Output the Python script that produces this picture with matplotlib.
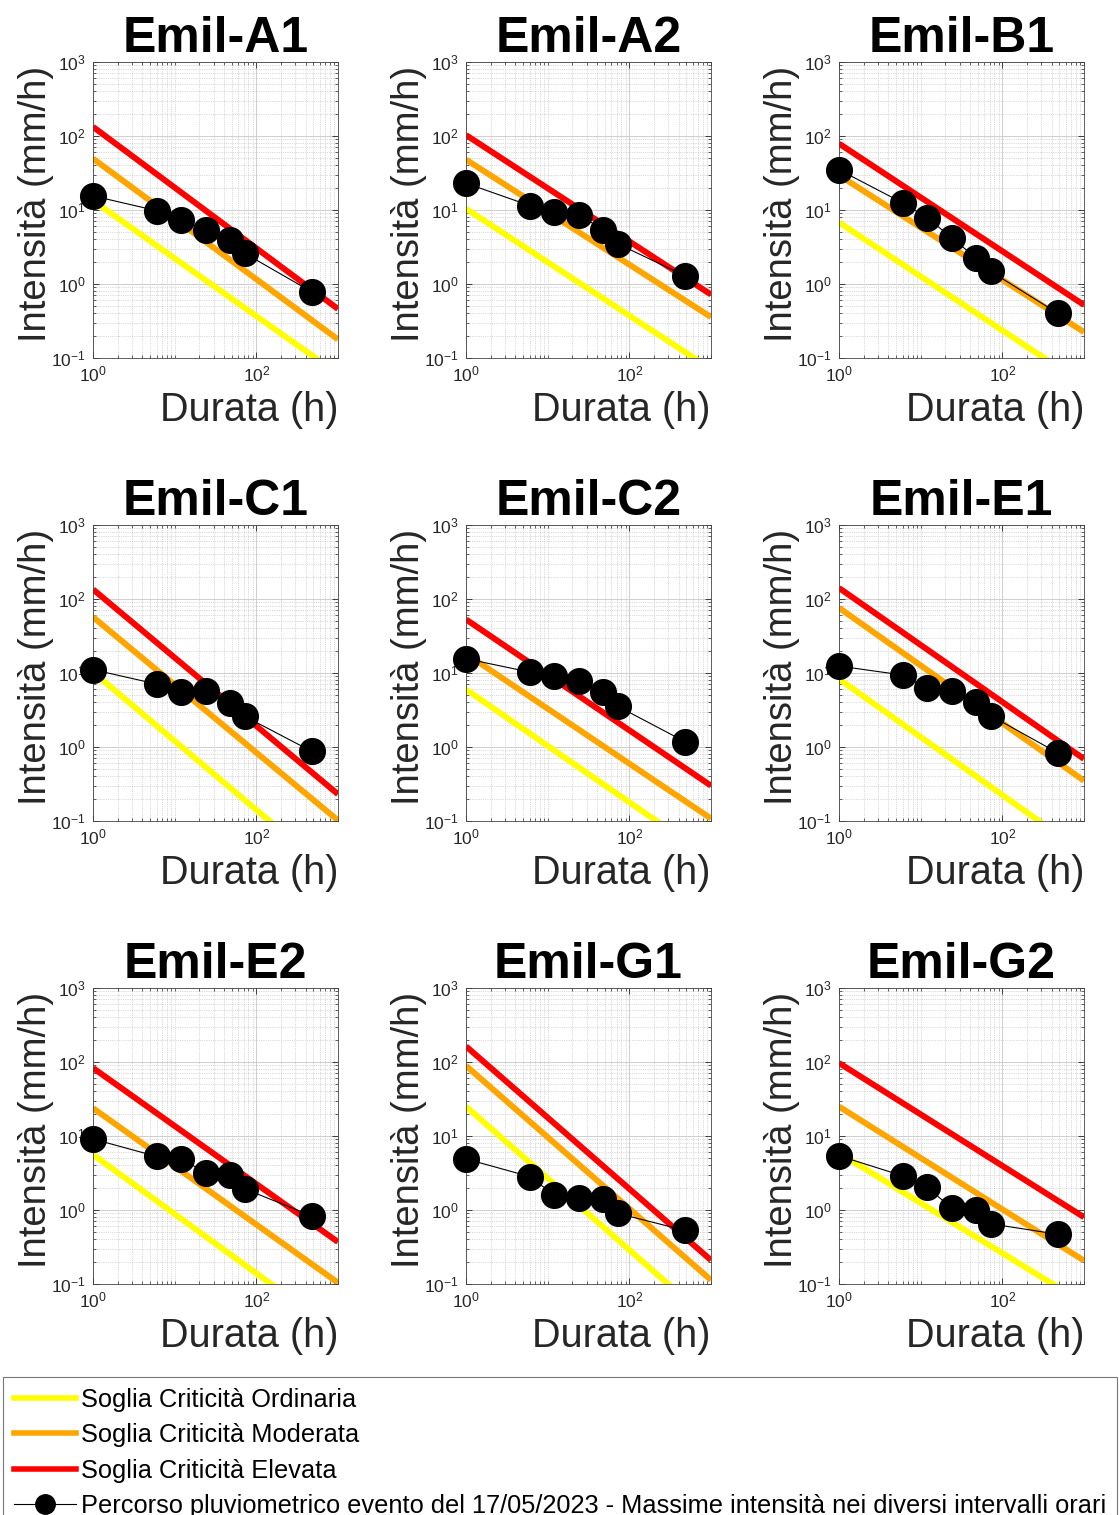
import numpy as np
import matplotlib
matplotlib.use("Agg")
import matplotlib.pyplot as plt
from matplotlib.lines import Line2D
from matplotlib.ticker import LogLocator, NullFormatter

plt.rcParams['font.family'] = ['Liberation Sans', 'DejaVu Sans']
plt.rcParams['mathtext.fontset'] = 'custom'
plt.rcParams['mathtext.rm'] = 'Liberation Sans'

# stations (panel order)
stations = ['Emil-A1', 'Emil-A2', 'Emil-B1',
            'Emil-C1', 'Emil-C2', 'Emil-E1',
            'Emil-E2', 'Emil-G1', 'Emil-G2']

# durations of the event points (h)
durations = [1, 6, 12, 24, 48, 72, 480]

# max intensities of the 17/05/2023 event (mm/h)
event_A1 = [15.5, 9.8, 7.3, 5.4, 3.9, 2.6, 0.78]
event_A2 = [23, 11.5, 9.3, 8.6, 5.4, 3.5, 1.29]
event_B1 = [35, 12.5, 7.9, 4.2, 2.24, 1.48, 0.40]
event_C1 = [11.1, 7.1, 5.6, 5.7, 3.9, 2.6, 0.87]
event_C2 = [15.6, 10.3, 9.1, 7.9, 5.5, 3.55, 1.18]
event_E1 = [12.4, 9.4, 6.2, 5.8, 4.0, 2.65, 0.83]
event_E2 = [9.1, 5.3, 4.9, 3.2, 3.0, 1.93, 0.83]
event_G1 = [4.9, 2.83, 1.6, 1.44, 1.40, 0.90, 0.53]
event_G2 = [5.4, 2.9, 2.03, 1.06, 1.0, 0.65, 0.47]
events = [event_A1, event_A2, event_B1, event_C1, event_C2,
          event_E1, event_E2, event_G1, event_G2]

# threshold lines: endpoints at 1 h and 1000 h (mm/h), one value per station
thr_durations = [1, 1000]
ordinaria_start = [13.4, 10.4, 6.8, 10.3, 6.0, 8.3, 5.6, 25, 5.9]
ordinaria_end = [0.061, 0.071, 0.044, 0.0166, 0.031, 0.037, 0.022, 0.031, 0.055]
moderata_start = [49.5, 48, 29.5, 57, 18.2, 76, 23.8, 89, 25]
moderata_end = [0.178, 0.357, 0.224, 0.102, 0.108, 0.35, 0.104, 0.113, 0.207]
elevata_start = [133, 103, 79, 135, 53, 141, 83, 163, 97]
elevata_end = [0.46, 0.72, 0.52, 0.23, 0.30, 0.69, 0.37, 0.21, 0.80]

legend_labels = ['Soglia Criticità Ordinaria', 'Soglia Criticità Moderata',
                 'Soglia Criticità Elevata',
                 'Percorso pluviometrico evento del 17/05/2023 - Massime intensità nei diversi intervalli orari']

c_yellow = '#ffff00'
c_orange = '#ffa500'
c_red = '#ff0000'
txt = '#262626'

W, H = 1119, 1515
fig = plt.figure(figsize=(W / 100, H / 100), dpi=100)

col_left = [93, 466, 839]
row_top = [62, 525, 988]
ax_w, ax_h = 245, 296

for i, name in enumerate(stations):
    r, c = divmod(i, 3)
    ax = fig.add_axes([col_left[c] / W, 1 - (row_top[r] + ax_h) / H, ax_w / W, ax_h / H])
    ax.set_xscale('log')
    ax.set_yscale('log')

    ax.plot(thr_durations, [ordinaria_start[i], ordinaria_end[i]], color=c_yellow, lw=4.3, solid_capstyle='butt')
    ax.plot(thr_durations, [moderata_start[i], moderata_end[i]], color=c_orange, lw=4.3, solid_capstyle='butt')
    ax.plot(thr_durations, [elevata_start[i], elevata_end[i]], color=c_red, lw=4.3, solid_capstyle='butt')
    ax.plot(durations, events[i], color='black', lw=0.8, marker='o', ms=18.5,
            markerfacecolor='black', markeredgecolor='black', clip_on=False, zorder=5)

    ax.set_xlim(1, 1000)
    ax.set_ylim(0.1, 1000)
    ax.set_xticks([1, 100])
    ax.xaxis.set_minor_locator(LogLocator(base=10, subs=np.arange(1, 10), numticks=20))
    ax.xaxis.set_minor_formatter(NullFormatter())
    ax.set_yticks([0.1, 1, 10, 100, 1000])
    ax.yaxis.set_minor_locator(LogLocator(base=10, subs=np.arange(2, 10), numticks=20))
    ax.yaxis.set_minor_formatter(NullFormatter())

    ax.grid(which='major', color='#c8c8c8', lw=0.6)
    ax.grid(which='minor', color='#b8b8b8', lw=0.5, ls=':')
    ax.set_axisbelow(True)
    ax.tick_params(which='both', direction='in', top=True, right=True,
                   colors=txt, labelsize=12.5, pad=5)
    ax.tick_params(which='major', length=4, width=0.6)
    ax.tick_params(which='minor', length=2, width=0.5)
    for s in ax.spines.values():
        s.set_color('#444444')
        s.set_linewidth(0.6)

    ax.set_title(name, fontsize=36, fontweight='bold', pad=4, color='black')
    ax.set_ylabel('Intensità (mm/h)', fontsize=27.5, color=txt)
    ax.yaxis.set_label_coords(-0.16, 0.52)
    ax.set_xlabel('Durata (h)', fontsize=28.5, color=txt, loc='right')
    ax.xaxis.set_label_coords(1.0, -0.11)

handles = [Line2D([], [], color=c_yellow, lw=4),
           Line2D([], [], color=c_orange, lw=4),
           Line2D([], [], color=c_red, lw=4),
           Line2D([], [], color='black', lw=0.8, marker='o', ms=14)]
leg = fig.legend(handles, legend_labels, loc='upper left', bbox_to_anchor=(3 / W, 1 - 1377 / H),
                 fontsize=18.3, frameon=True, fancybox=False, edgecolor='#555555',
                 handlelength=2.45, handletextpad=0.2, labelspacing=0.45,
                 borderpad=0.42, borderaxespad=0)
leg.get_frame().set_linewidth(0.8)

fig.savefig('out.png', dpi=100)
